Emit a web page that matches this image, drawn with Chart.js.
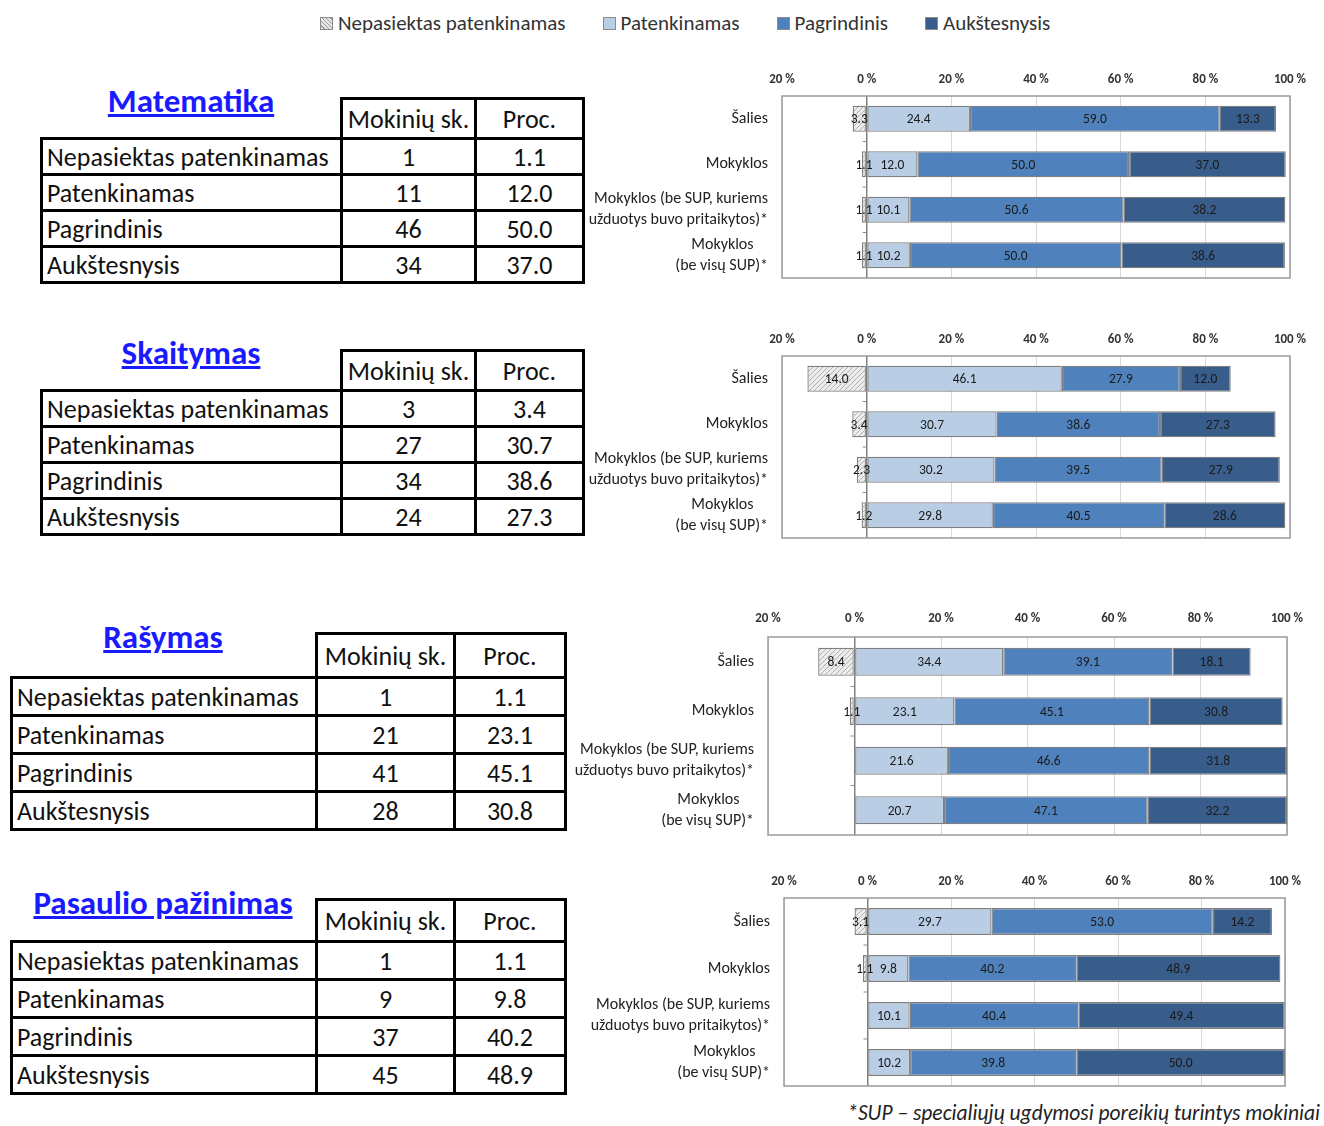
<!DOCTYPE html>
<html>
<head>
<meta charset="utf-8">
<script src="https://cdn.jsdelivr.net/npm/chart.js@4.4.0/dist/chart.umd.min.js"></script>
<style>
body { margin:0; background:#fff; font-family: Carlito, Lato, sans-serif; color:#111; }
#page { position:relative; width:1324px; height:1126px; overflow:hidden; }
.legend { position:absolute; left:320px; top:10px; display:flex; font-size:21px; color:#333; line-height:26px; }
.legend .item { display:flex; align-items:center; margin-right:37px; }
.sw { width:11px; height:11px; border:1px solid #8c8c8c; margin-right:5px; }
.title { position:absolute; font-weight:bold; font-size:33px; color:#1a1aff; text-decoration:underline; transform:translate(-50%,-50%); white-space:nowrap; }
table.t { position:absolute; border-collapse:collapse; font-size:26px; table-layout:fixed; }
table.t td { border:3px solid #000; padding:0 4px; text-align:center; white-space:nowrap; overflow:hidden; }
table.t td.lab { text-align:left; }
table.t td.blank { border:none; }
canvas { position:absolute; }
.note { position:absolute; right:4px; top:1100px; font-style:italic; font-size:21.5px; color:#222; }
</style>
</head>
<body>
<div id="page">
  <div class="legend">
    <span class="item"><span class="sw" style="background:repeating-linear-gradient(45deg,#e6e6e6 0 2px,#9a9a9a 2px 3px)"></span>Nepasiektas patenkinamas</span>
    <span class="item"><span class="sw" style="background:#b9cde5"></span>Patenkinamas</span>
    <span class="item"><span class="sw" style="background:#4f81bd"></span>Pagrindinis</span>
    <span class="item"><span class="sw" style="background:#385d8a"></span>Aukštesnysis</span>
  </div>

  <div class="title" style="left:191px;top:101px">Matematika</div>
  <div class="title" style="left:191px;top:353px">Skaitymas</div>
  <div class="title" style="left:163px;top:637px">Rašymas</div>
  <div class="title" style="left:163px;top:903px">Pasaulio pažinimas</div>

  <table class="t" id="t1" style="left:40px;top:97px;width:545px"></table>
  <table class="t" id="t2" style="left:40px;top:349px;width:545px"></table>
  <table class="t" id="t3" style="left:10px;top:632px;width:557px"></table>
  <table class="t" id="t4" style="left:10px;top:898px;width:557px"></table>

  <canvas id="c1" width="745" height="220" style="left:575px;top:60px"></canvas>
  <canvas id="c2" width="745" height="220" style="left:575px;top:320px"></canvas>
  <canvas id="c3" width="760" height="240" style="left:560px;top:600px"></canvas>
  <canvas id="c4" width="745" height="230" style="left:575px;top:862px"></canvas>

  <div class="note">*SUP – specialiųjų ugdymosi poreikių turintys mokiniai</div>
</div>

<script>
// lygiai ir grupės
const levels = ['Nepasiektas patenkinamas', 'Patenkinamas', 'Pagrindinis', 'Aukštesnysis'];
const groups = [
    'Šalies',
    'Mokyklos',
    ['Mokyklos (be SUP, kuriems', 'užduotys buvo pritaikytos)*'],
    ['Mokyklos    ', '(be visų SUP)*']
];
const xTicks = [-20, 0, 20, 40, 60, 80, 100];

// Matematika
const matMokiniai = [1, 11, 46, 34];
const matProc = ['1.1', '12.0', '50.0', '37.0'];
const matNepasiektas = [3.3, 1.1, 1.1, 1.1];
const matPatenkinamas = [24.4, 12.0, 10.1, 10.2];
const matPagrindinis = [59.0, 50.0, 50.6, 50.0];
const matAukstesnysis = [13.3, 37.0, 38.2, 38.6];

// Skaitymas
const skaMokiniai = [3, 27, 34, 24];
const skaProc = ['3.4', '30.7', '38.6', '27.3'];
const skaNepasiektas = [14.0, 3.4, 2.3, 1.2];
const skaPatenkinamas = [46.1, 30.7, 30.2, 29.8];
const skaPagrindinis = [27.9, 38.6, 39.5, 40.5];
const skaAukstesnysis = [12.0, 27.3, 27.9, 28.6];

// Rašymas
const rasMokiniai = [1, 21, 41, 28];
const rasProc = ['1.1', '23.1', '45.1', '30.8'];
const rasNepasiektas = [8.4, 1.1, null, null];
const rasPatenkinamas = [34.4, 23.1, 21.6, 20.7];
const rasPagrindinis = [39.1, 45.1, 46.6, 47.1];
const rasAukstesnysis = [18.1, 30.8, 31.8, 32.2];

// Pasaulio pažinimas
const pasMokiniai = [1, 9, 37, 45];
const pasProc = ['1.1', '9.8', '40.2', '48.9'];
const pasNepasiektas = [3.1, 1.1, null, null];
const pasPatenkinamas = [29.7, 9.8, 10.1, 10.2];
const pasPagrindinis = [53.0, 40.2, 40.4, 39.8];
const pasAukstesnysis = [14.2, 48.9, 49.4, 50.0];

const spalvos = ['#b9cde5', '#4f81bd', '#385d8a'];
const fontas = 'Carlito, Lato, sans-serif';

function lentele(id, mokiniai, proc, heights) {
    let html = '<colgroup><col style="width:' + heights.c1 + 'px"><col style="width:' + heights.c2 + 'px"><col></colgroup>';
    html += '<tr style="height:' + heights.h + 'px"><td class="blank"></td><td>Mokinių sk.</td><td>Proc.</td></tr>';
    for (let i = 0; i < levels.length; i++) {
        html += '<tr style="height:' + heights.r + 'px"><td class="lab">' + levels[i] + '</td><td>' + mokiniai[i] + '</td><td>' + proc[i] + '</td></tr>';
    }
    document.getElementById(id).innerHTML = html;
}

lentele('t1', matMokiniai, matProc, {c1: 300, c2: 134, h: 40, r: 36});
lentele('t2', skaMokiniai, skaProc, {c1: 300, c2: 134, h: 40, r: 36});
lentele('t3', rasMokiniai, rasProc, {c1: 305, c2: 138, h: 44, r: 38});
lentele('t4', pasMokiniai, pasProc, {c1: 305, c2: 138, h: 42, r: 38});

function brukszniai() {
    const c = document.createElement('canvas');
    c.width = 5; c.height = 5;
    const g = c.getContext('2d');
    g.fillStyle = '#ececec';
    g.fillRect(0, 0, 5, 5);
    g.strokeStyle = '#b0b0b0';
    g.lineWidth = 1;
    g.beginPath();
    g.moveTo(0, 5); g.lineTo(5, 0);
    g.moveTo(-1, 1); g.lineTo(1, -1);
    g.moveTo(4, 6); g.lineTo(6, 4);
    g.stroke();
    return g.createPattern(c, 'repeat');
}
const hatch = brukszniai();

// reikšmės ant stulpelių
const reiksmes = {
    id: 'reiksmes',
    afterDatasetsDraw(chart) {
        const ctx = chart.ctx;
        ctx.save();
        ctx.font = '13.5px ' + fontas;
        ctx.fillStyle = '#1a1a1a';
        ctx.textAlign = 'center';
        ctx.textBaseline = 'middle';
        chart.data.datasets.forEach((ds, i) => {
            chart.getDatasetMeta(i).data.forEach((bar, j) => {
                const v = ds.data[j];
                if (v === null || v === undefined) return;
                const p = bar.getCenterPoint();
                ctx.fillText(Math.abs(v).toFixed(1), p.x, p.y + 1);
            });
        });
        ctx.restore();
    }
};

// rėmelis ir brūkšneliai ties 0
const remelis = {
    id: 'remelis',
    beforeDatasetsDraw(chart) {
        const ctx = chart.ctx;
        const a = chart.chartArea;
        const xs = chart.scales.x, ys = chart.scales.y;
        ctx.save();
        ctx.strokeStyle = '#9a9a9a';
        ctx.lineWidth = 1.5;
        ctx.strokeRect(a.left, a.top, a.right - a.left, a.bottom - a.top);
        const x0 = xs.getPixelForValue(0);
        ctx.strokeStyle = '#8c8c8c';
        ctx.lineWidth = 1;
        for (let j = 0; j < groups.length - 1; j++) {
            const y = (ys.getPixelForValue(j) + ys.getPixelForValue(j + 1)) / 2;
            ctx.beginPath();
            ctx.moveTo(x0 - 4, y);
            ctx.lineTo(x0, y);
            ctx.stroke();
        }
        ctx.restore();
    }
};

function grafikas(id, nep, pat, pag, auk, dydis) {
    const ctx = document.getElementById(id).getContext('2d');
    new Chart(ctx, {
        type: 'bar',
        data: {
            labels: groups,
            datasets: [
                { label: levels[0], data: nep.map(v => v === null ? null : -v), backgroundColor: hatch },
                { label: levels[1], data: pat, backgroundColor: spalvos[0] },
                { label: levels[2], data: pag, backgroundColor: spalvos[1] },
                { label: levels[3], data: auk, backgroundColor: spalvos[2] }
            ]
        },
        options: {
            responsive: false,
            animation: false,
            devicePixelRatio: 1,
            indexAxis: 'y',
            layout: { padding: { left: 0, top: 0, right: dydis.pr, bottom: dydis.pb } },
            datasets: {
                bar: {
                    barPercentage: 0.57,
                    categoryPercentage: 1,
                    borderColor: '#7f7f7f',
                    borderWidth: 1.3,
                    borderSkipped: false
                }
            },
            plugins: {
                legend: { display: false },
                tooltip: { enabled: false }
            },
            scales: {
                x: {
                    stacked: true,
                    position: 'top',
                    min: xTicks[0],
                    max: xTicks[xTicks.length - 1],
                    afterBuildTicks: s => { s.ticks = xTicks.map(v => ({ value: v })); },
                    ticks: {
                        padding: dydis.tp,
                        color: '#333',
                        font: { family: fontas, size: 13, weight: 'bold' },
                        callback: v => Math.abs(v) + ' %'
                    },
                    grid: {
                        drawTicks: false,
                        color: c => (c.tick && c.tick.value === 0) ? '#808080' : '#d9d9d9',
                        lineWidth: c => (c.tick && c.tick.value === 0) ? 1.5 : 1
                    },
                    border: { display: false },
                    afterFit: s => { s.height = dydis.xh; }
                },
                y: {
                    stacked: true,
                    grid: { display: false },
                    border: { display: false },
                    ticks: {
                        autoSkip: false,
                        padding: 6,
                        color: '#222',
                        font: { family: fontas, size: 16, lineHeight: 1.3 }
                    },
                    afterFit: s => {
                        s.width = dydis.yw;
                        s.paddingTop = 0;
                        s.paddingBottom = 0;
                    }
                }
            }
        },
        plugins: [remelis, reiksmes]
    });
}

grafikas('c1', matNepasiektas, matPatenkinamas, matPagrindinis, matAukstesnysis, { yw: 207, xh: 36, pr: 30, pb: 2, tp: 8 });
grafikas('c2', skaNepasiektas, skaPatenkinamas, skaPagrindinis, skaAukstesnysis, { yw: 207, xh: 36, pr: 30, pb: 2, tp: 8 });
grafikas('c3', rasNepasiektas, rasPatenkinamas, rasPagrindinis, rasAukstesnysis, { yw: 208, xh: 37, pr: 33, pb: 5, tp: 10 });
grafikas('c4', pasNepasiektas, pasPatenkinamas, pasPagrindinis, pasAukstesnysis, { yw: 209, xh: 36, pr: 35, pb: 6, tp: 8 });
</script>
</body>
</html>
